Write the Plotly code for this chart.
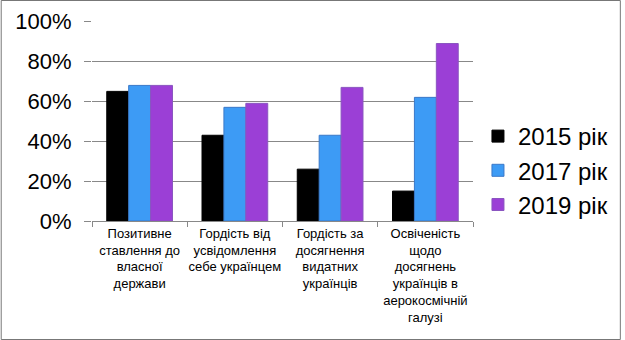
import plotly.graph_objects as go

categories = [
    "Позитивне<br>ставлення до<br>власної<br>держави",
    "Гордість від<br>усвідомлення<br>себе українцем",
    "Гордість за<br>досягнення<br>видатних<br>українців",
    "Освіченість<br>щодо<br>досягнень<br>українців в<br>аерокосмічній<br>галузі",
]
series_names = ["2015 рік", "2017 рік", "2019 рік"]
v2015 = [0.65, 0.43, 0.26, 0.15]
v2017 = [0.68, 0.57, 0.43, 0.62]
v2019 = [0.68, 0.59, 0.67, 0.89]
tick_vals = [0, 0.2, 0.4, 0.6, 0.8, 1.0]
tick_text = ["0%", "20%", "40%", "60%", "80%", "100%"]

fills = ["#000000", "#3D9BF5", "#9B3FD6"]
lines = ["#000000", "#3A78C8", "#8A55C0"]

FONT = "Liberation Sans, Arial, sans-serif"

fig = go.Figure()
for name, vals, fc, lc in zip(series_names, [v2015, v2017, v2019], fills, lines):
    fig.add_trace(go.Bar(x=categories, y=vals, name=name,
                         marker=dict(color=fc, line=dict(color=lc, width=1))))

W, H = 625, 340
ml, mr, mt, mb = 92, 149, 21, 119
pw, ph = W - ml - mr, H - mt - mb

fig.update_layout(
    width=W, height=H,
    margin=dict(l=ml, r=mr, t=mt, b=mb),
    paper_bgcolor="white", plot_bgcolor="white",
    barmode="group", bargap=0.31, bargroupgap=0,
    font=dict(family=FONT, color="#000000"),
    legend=dict(x=(481 - ml) / pw, y=(mt + ph - 114) / ph, xanchor="left", yanchor="top",
                font=dict(size=24, family=FONT), tracegroupgap=0,
                itemwidth=30, bgcolor="rgba(0,0,0,0)"),
    xaxis=dict(showline=True, linecolor="#888888", linewidth=1, automargin=False,
               ticks="outside", tickson="boundaries", ticklen=5, tickcolor="#888888",
               tickfont=dict(size=13, family=FONT), tickangle=0,
               showgrid=False),
    yaxis=dict(range=[0, 1.003], tickvals=tick_vals, ticktext=tick_text, automargin=False,
               tickfont=dict(size=22, family=FONT),
               ticks="outside", ticklen=7, tickcolor="#888888",
               showgrid=True, gridcolor="#888888", gridwidth=1,
               showline=False, zeroline=False, ticklabelstandoff=8),
    shapes=[dict(type="rect", xref="paper", yref="paper",
                 x0=(0.5 - ml) / pw, x1=(W - 0.5 - ml) / pw,
                 y0=-(mb - 0.5) / ph, y1=(ph + mt - 0.5) / ph,
                 line=dict(color="#777777", width=1))],
)

fig.write_html("out.html")
